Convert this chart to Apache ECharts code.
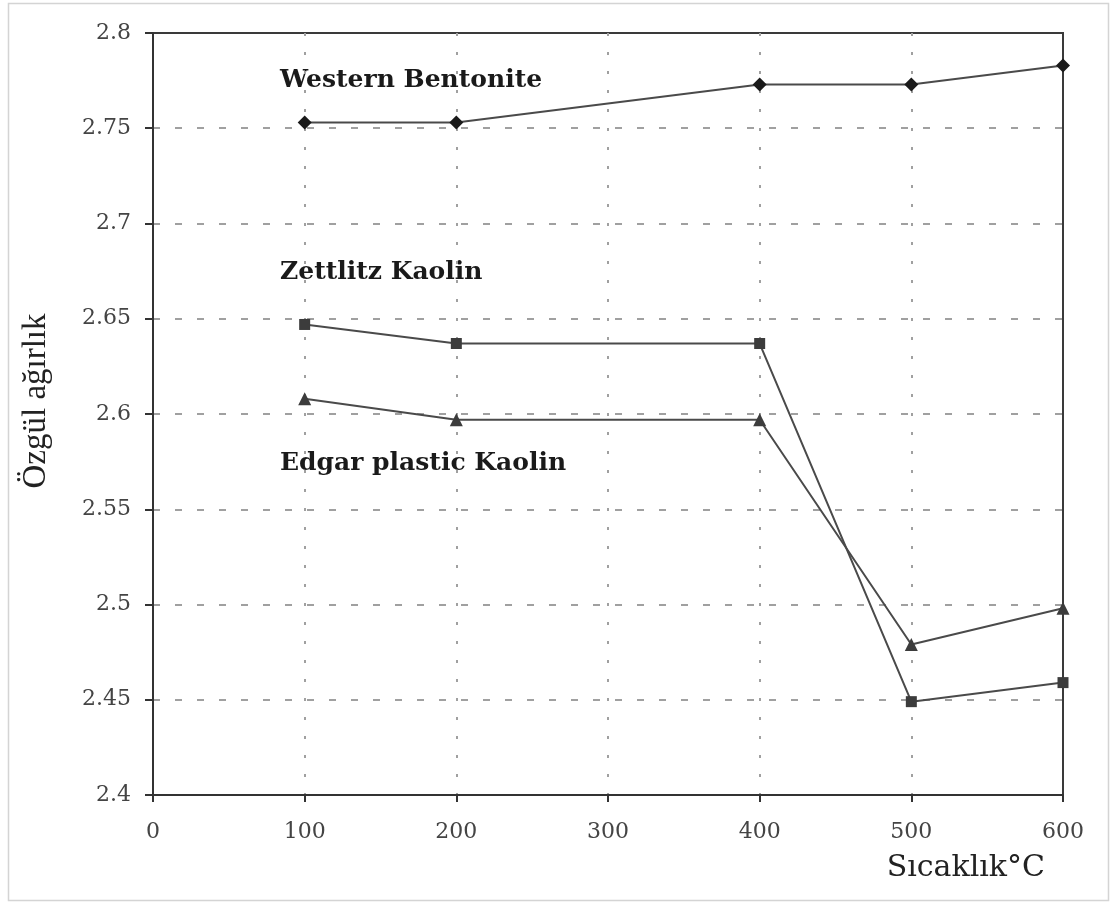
<!DOCTYPE html>
<html>
<head>
<meta charset="utf-8">
<script src="https://cdn.jsdelivr.net/npm/echarts@6/dist/echarts.min.js"></script>
<style>
  html, body { margin: 0; padding: 0; background: #fff; }
  #chart { width: 1112px; height: 903px; }
</style>
</head>
<body>
<div id="chart"></div>
<script>
// Temperatures (°C) at which specific gravity was measured
const temperatures = [100, 200, 400, 500, 600];

// Specific gravity per clay type
const westernBentonite = [2.753, 2.753, 2.773, 2.773, 2.783];
const zettlitzKaolin   = [2.647, 2.637, 2.637, 2.449, 2.459];
const edgarKaolin      = [2.608, 2.597, 2.597, 2.479, 2.498];

// Axis ticks
const xTicks = { min: 0, max: 600, step: 100 };
const yTicks = { min: 2.4, max: 2.8, step: 0.05 };

const seriesNames = ['Western Bentonite', 'Zettlitz Kaolin', 'Edgar plastic Kaolin'];

const pair = (vals) => temperatures.map((t, i) => [t, vals[i]]);

const wideSerif = '"DejaVu Serif", "Liberation Serif", serif';
const serif = '"Liberation Serif", "DejaVu Serif", serif';

const chart = echarts.init(document.getElementById('chart'), null, { renderer: 'canvas' });

const lineStyle = { color: '#4a4a4a', width: 2 };
const labelFont = 'bold 25px ' + wideSerif;

chart.setOption({
  animation: false,
  backgroundColor: '#ffffff',
  grid: {
    left: 153, top: 33, right: 49, bottom: 108,
    show: true, borderColor: '#3a3a3a', borderWidth: 2, backgroundColor: 'transparent'
  },
  xAxis: {
    type: 'value',
    min: xTicks.min, max: xTicks.max, interval: xTicks.step,
    name: 'Sıcaklık°C',
    nameLocation: 'end',
    nameGap: 0,
    nameTextStyle: {
      fontFamily: wideSerif, fontSize: 30, color: '#222',
      align: 'right', verticalAlign: 'top', padding: [58, 18, 0, 0]
    },
    axisLine: { show: true, lineStyle: { color: '#333', width: 2 } },
    axisTick: { show: true, inside: false, length: 7, lineStyle: { color: '#333', width: 2 } },
    axisLabel: { fontFamily: wideSerif, fontSize: 22, color: '#444', margin: 26 },
    splitLine: {
      show: true, showMinLine: false, showMaxLine: false,
      lineStyle: { color: '#a0a0a0', width: 2, type: [3, 16] }
    }
  },
  yAxis: {
    type: 'value',
    min: yTicks.min, max: yTicks.max, interval: yTicks.step,
    name: 'Özgül ağırlık',
    nameLocation: 'middle',
    nameGap: 100,
    nameRotate: 90,
    nameTextStyle: { fontFamily: serif, fontSize: 33, color: '#222', padding: [0, 0, 0, 26] },
    axisLine: { show: true, lineStyle: { color: '#333', width: 2 } },
    axisTick: { show: true, inside: false, length: 8, lineStyle: { color: '#333', width: 2 } },
    axisLabel: {
      fontFamily: wideSerif, fontSize: 22, color: '#444', margin: 22,
      formatter: (v) => String(Math.round(v * 100) / 100)
    },
    splitLine: {
      show: true, showMinLine: false, showMaxLine: false,
      lineStyle: { color: '#a0a0a0', width: 2, type: [7, 15] }
    }
  },
  graphic: [
    {
      type: 'rect', left: 6, top: 1, silent: true,
      shape: { width: 1100, height: 897 },
      style: { fill: 'none', stroke: '#d4d4d4', lineWidth: 1.5 }
    },
    {
      type: 'text', x: 280, y: 80,
      style: { text: seriesNames[0], font: labelFont, fill: '#1a1a1a', verticalAlign: 'middle' }
    },
    {
      type: 'text', x: 280, y: 272,
      style: { text: seriesNames[1], font: labelFont, fill: '#1a1a1a', verticalAlign: 'middle' }
    },
    {
      type: 'text', x: 280, y: 463,
      style: { text: seriesNames[2], font: labelFont, fill: '#1a1a1a', verticalAlign: 'middle' }
    }
  ],
  series: [
    {
      name: seriesNames[0], type: 'line', data: pair(westernBentonite),
      symbol: 'diamond', symbolSize: 14,
      itemStyle: { color: '#1a1a1a' }, lineStyle: lineStyle, z: 3
    },
    {
      name: seriesNames[1], type: 'line', data: pair(zettlitzKaolin),
      symbol: 'rect', symbolSize: 11,
      itemStyle: { color: '#3c3c3c' }, lineStyle: lineStyle, z: 3
    },
    {
      name: seriesNames[2], type: 'line', data: pair(edgarKaolin),
      symbol: 'triangle', symbolSize: 13,
      itemStyle: { color: '#3c3c3c' }, lineStyle: lineStyle, z: 3
    }
  ]
});
</script>
</body>
</html>
